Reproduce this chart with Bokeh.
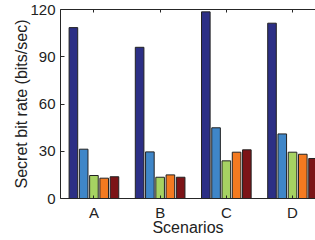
from bokeh.plotting import figure
from bokeh.models import ColumnDataSource, LinearAxis, Range1d, FixedTicker
from bokeh.transform import dodge
from bokeh.embed import file_html
from bokeh.resources import INLINE

scenarios = ["A", "B", "C", "D"]
group_pos = [1, 2, 3, 4]
series1 = [108.5, 96.0, 118.5, 111.3]
series2 = [31.3, 29.6, 44.9, 41.0]
series3 = [14.6, 13.5, 23.9, 29.4]
series4 = [12.9, 15.0, 29.4, 28.1]
series5 = [13.8, 13.5, 30.9, 25.4]
colors = ["#2C2F85", "#3F86C8", "#A6D262", "#F47A20", "#7C1417"]
y_ticks = [0, 30, 60, 90, 120]

FONT = "Liberation Sans"

src = ColumnDataSource(dict(x=group_pos, s1=series1, s2=series2, s3=series3,
                            s4=series4, s5=series5))

p = figure(width=315, height=240, output_backend="svg", toolbar_location=None,
           x_range=Range1d(0.495, 4.347), y_range=Range1d(0, 120),
           min_border_left=60, min_border_top=9, min_border_right=0,
           min_border_bottom=42, x_axis_label="Scenarios",
           y_axis_label="Secret bit rate (bits/sec)")
p.outline_line_color = None
p.grid.grid_line_color = None
p.background_fill_color = "white"
p.border_fill_color = "white"

offsets = [-0.31, -0.155, 0.0, 0.155, 0.31]
for i, key in enumerate(["s1", "s2", "s3", "s4", "s5"]):
    p.vbar(x=dodge("x", offsets[i], range=p.x_range), top=key, width=0.13,
           source=src, fill_color=colors[i], line_color="#222222", line_width=1)

ax = p.xaxis[0]
ax.ticker = FixedTicker(ticks=group_pos)
ax.major_label_overrides = {g: s for g, s in zip(group_pos, scenarios)}
ax.major_tick_in = 3
ax.major_tick_out = 0
ax.minor_tick_line_color = None
ax.major_label_standoff = 5
ax.axis_label_standoff = -5
ax.major_label_text_font = FONT
ax.major_label_text_font_size = "15px"
ax.axis_label_text_font = FONT
ax.axis_label_text_font_size = "16px"
ax.axis_label_text_font_style = "normal"
ax.axis_line_color = "#262626"
ax.major_tick_line_color = "#262626"
ax.major_label_text_color = "#222222"
ax.axis_label_text_color = "#222222"

ay = p.yaxis[0]
ay.ticker = FixedTicker(ticks=y_ticks)
ay.major_tick_in = 4
ay.major_tick_out = 0
ay.minor_tick_line_color = None
ay.major_label_standoff = 5
ay.axis_label_standoff = -3
ay.major_label_text_font = FONT
ay.major_label_text_font_size = "15px"
ay.axis_label_text_font = FONT
ay.axis_label_text_font_size = "16px"
ay.axis_label_text_font_style = "normal"
ay.axis_line_color = "#262626"
ay.major_tick_line_color = "#262626"
ay.major_label_text_color = "#222222"
ay.axis_label_text_color = "#222222"

top = LinearAxis(ticker=FixedTicker(ticks=group_pos))
top.major_label_text_color = None
top.major_label_text_font_size = "1px"
top.major_label_standoff = 0
top.major_tick_in = 3
top.major_tick_out = 0
top.minor_tick_line_color = None
top.axis_line_color = "#262626"
top.major_tick_line_color = "#262626"
p.add_layout(top, "above")

open("out.html", "w").write(file_html(p, INLINE))
